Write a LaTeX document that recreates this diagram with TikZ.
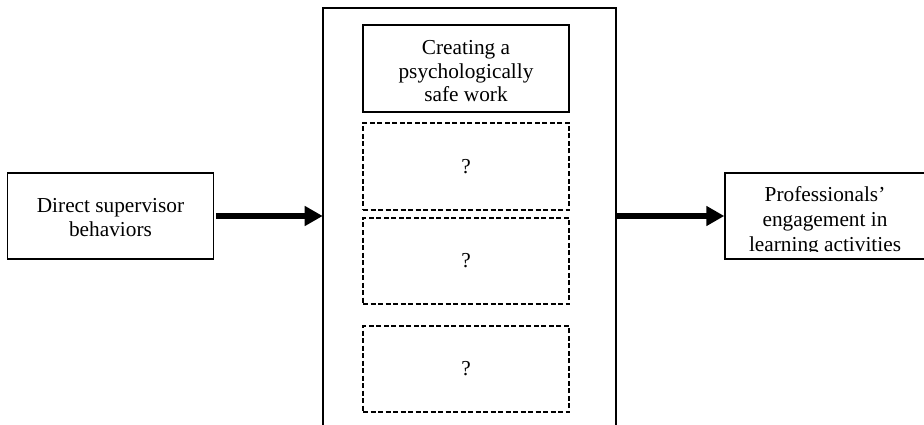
\documentclass[tikz,border=0pt]{standalone}
\usepackage{fontspec}
\setmainfont{Liberation Serif}
\usetikzlibrary{arrows.meta}

\tikzset{
  txt/.style={font=\fontsize{21.3}{24}\selectfont, align=center, inner sep=0pt},
  solidbox/.style={draw=black, line width=1.4pt, inner sep=0pt},
  frame/.style={draw=black, line width=2pt},
  dashbox/.style={draw=black, line width=1.5pt, dash pattern=on 5pt off 2.5pt, inner sep=0pt},
  bigarrow/.style={line width=6.5pt, -{Triangle[length=18pt,width=19pt]}},
}

\begin{document}
\begin{tikzpicture}[x=1pt,y=-1pt]
  \useasboundingbox (0,0) rectangle (924,425);
  \clip (0,0) rectangle (924,425);

  % outer frame of the mediating block (runs past the bottom edge)
  \draw[frame] (322.7,8) rectangle (616,440);

  % left input box
  \node[solidbox, minimum width=206pt, minimum height=86pt] (src) at (110.5,216) {};
  \node[txt, anchor=base] (srct) at (110.5,212) {Direct supervisor};
  \node[txt, anchor=base] (srcb) at (110.5,236) {behaviors};

  % stacked mediator boxes
  \node[solidbox, line width=2pt, minimum width=206pt, minimum height=87pt] (m1) at (466,68.5) {};
  \node[txt, anchor=base] (m1a) at (466,55) {Creating a};
  \node[txt, anchor=base] (m1b) at (466,79) {psychologically};
  \node[txt, anchor=base] (m1c) at (466,102) {safe work};

  \node[dashbox, minimum width=206pt, minimum height=87pt, txt] (m2) at (466,166.5) {?};
  \node[dashbox, minimum width=206pt, minimum height=86pt, txt] (m3) at (466,261) {?};
  \node[dashbox, minimum width=206pt, minimum height=86pt, txt] (m4) at (466,369) {?};

  % right outcome box (text cut off at the box bottom)
  \node[solidbox, minimum width=206pt, minimum height=86pt] (out) at (828,216) {};
  \begin{scope}
    \clip (700,175) rectangle (924,251.5);
    \node[txt, anchor=base] (outa) at (825,201) {Professionals’};
    \node[txt, anchor=base] (outb) at (825,226) {engagement in};
    \node[txt, anchor=base] (outc) at (825,251) {learning activities};
  \end{scope}

  % main arrows
  \coordinate (frameL) at (322.7,216);
  \coordinate (frameR) at (616,216);
  \draw[bigarrow] ([xshift=1.7pt]src.east) -- (frameL);
  \draw[bigarrow] (frameR) -- (out.west);
\end{tikzpicture}
\end{document}
